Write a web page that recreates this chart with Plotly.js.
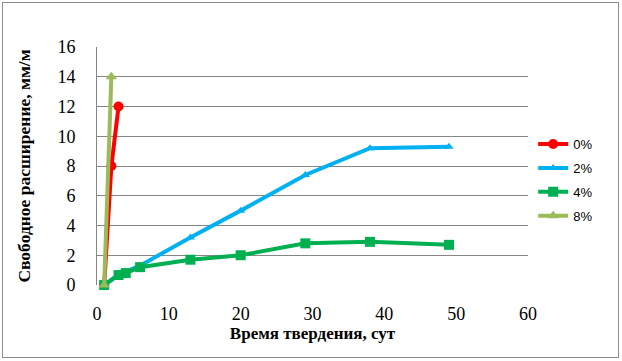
<!DOCTYPE html>
<html>
<head>
<meta charset="utf-8">
<script src="https://cdn.plot.ly/plotly-3.0.1.min.js"></script>
<style>
  html, body { margin: 0; padding: 0; background: #fff; }
  #wrap { position: relative; width: 622px; height: 361px; }
  #chart { width: 622px; height: 361px; }
  #frame { position: absolute; left: 2px; top: 2px; width: 615px; height: 354px; border: 1px solid #8c8c8c; pointer-events: none; }
</style>
</head>
<body>
<div id="wrap">
  <div id="chart"></div>
  <div id="frame"></div>
</div>
<script>
// Data
const seriesNames = ["0%", "2%", "4%", "8%"];
const x0 = [1, 2, 3];
const y0 = [0, 8, 12];
const x2 = [1, 3, 4, 6, 13, 20, 29, 38, 49];
const y2 = [0, 0.7, 0.9, 1.3, 3.2, 5.0, 7.4, 9.2, 9.3];
const x4 = [1, 3, 4, 6, 13, 20, 29, 38, 49];
const y4 = [0, 0.67, 0.8, 1.2, 1.7, 2.0, 2.8, 2.9, 2.7];
const x8 = [1, 2];
const y8 = [0, 14];
const xTicks = [0, 10, 20, 30, 40, 50, 60];
const yTicks = [0, 2, 4, 6, 8, 10, 12, 14, 16];

const colors = ["#ff0000", "#00b0f0", "#00b050", "#9bbb59"];
const symbols = ["circle", "triangle-up", "square", "triangle-up"];
const sizes = [10, 8, 10, 10];
const xs = [x0, x2, x4, x8];
const ys = [y0, y2, y4, y8];

const serif = "Liberation Serif";

const traces = xs.map((xv, i) => ({
  x: xv, y: ys[i], name: seriesNames[i], type: "scatter", mode: "lines+markers",
  legendgroup: "g" + i,
  line: { color: colors[i], width: 4 },
  marker: { color: colors[i], symbol: symbols[i], size: sizes[i] },
  cliponaxis: false
}));

const layout = {
  width: 622, height: 361,
  margin: { l: 97, r: 94, t: 47, b: 76 },
  paper_bgcolor: "#ffffff", plot_bgcolor: "#ffffff",
  showlegend: true,
  legend: {
    x: 1.012, y: 0.655, xanchor: "left", yanchor: "top",
    font: { family: "Liberation Sans", size: 13, color: "#000" },
    traceorder: "grouped", tracegroupgap: 4,
    itemwidth: 30, bgcolor: "rgba(0,0,0,0)"
  },
  xaxis: {
    range: [0, 60], tickvals: xTicks, ticktext: xTicks.map(String),
    showgrid: false, zeroline: false, showline: false,
    ticks: "", ticklabelstandoff: 16,
    tickfont: { family: serif, size: 18, color: "#000" },
    title: { text: "Время твердения, сут", standoff: 2,
      font: { family: serif, size: 17, color: "#000", weight: "bold" } },
    fixedrange: true
  },
  yaxis: {
    range: [0, 16], tickvals: yTicks, ticktext: yTicks.map(String),
    showgrid: true, gridcolor: "#868686", gridwidth: 1,
    zeroline: false, showline: true, linecolor: "#868686", linewidth: 1,
    ticks: "", ticklabelstandoff: 17,
    tickfont: { family: serif, size: 18, color: "#000" },
    title: { text: "Свободное расширение, мм/м", standoff: 22,
      font: { family: serif, size: 17.5, color: "#000", weight: "bold" } },
    fixedrange: true
  }
};

Plotly.newPlot("chart", traces, layout, { displayModeBar: false, staticPlot: true });
</script>
</body>
</html>
